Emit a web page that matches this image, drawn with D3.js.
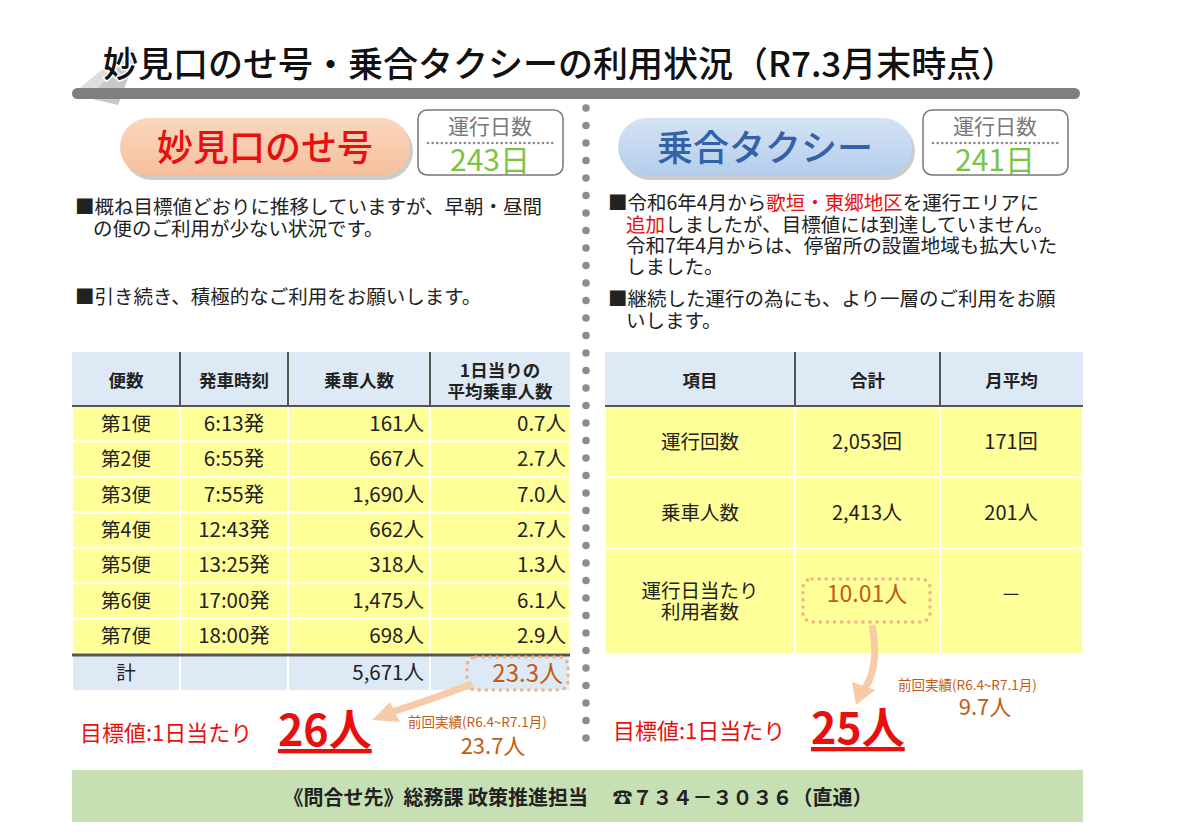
<!DOCTYPE html><html><head><meta charset="utf-8">
<script src="https://cdn.jsdelivr.net/npm/d3@7"></script>
<style>body{margin:0;background:#fff}svg{font-family:"Noto Sans CJK JP",sans-serif}</style></head><body>
<svg id="c" width="1191" height="837"></svg>
<script>
const title="妙見口のせ号・乗合タクシーの利用状況（R7.3月末時点）";
const leftHeaders=["便数","発車時刻","乗車人数","1日当りの\n平均乗車人数"];
const trips=["第1便","第2便","第3便","第4便","第5便","第6便","第7便"];
const times=["6:13発","6:55発","7:55発","12:43発","13:25発","17:00発","18:00発"];
const riders=[161,667,1690,662,318,1475,698];
const perDay=[0.7,2.7,7.0,2.7,1.3,6.1,2.9];
const totalRiders=5671, totalPerDay=23.3;
const rightHeaders=["項目","合計","月平均"];
const rightItems=["運行回数","乗車人数","運行日当たり\n利用者数"];
const rightTotals=["2,053回","2,413人","10.01人"];
const rightAvg=["171回","201人","－"];
const days=[243,241];
const targets=[26,25];
const prev=["23.7人","9.7人"];

const svg=d3.select("#c");
const fmt=d3.format(",");
function txt(x,y,s,o={}){const t=svg.append("text").attr("x",x).attr("y",y).attr("font-size",o.size||19.5).attr("fill",o.fill||"#222").attr("text-anchor",o.anchor||"start").attr("font-weight",o.weight||"normal");
 const lines=s.split("\n");if(lines.length==1){t.text(s);}else{const lh=o.lh||20;lines.forEach((l,i)=>t.append("tspan").attr("x",x).attr("dy",i==0?-(lines.length-1)*lh/2:lh).text(l));}return t;}
// title
svg.append("path").attr("d","M80 88 L128 48 L135 50 L112 92 Z").attr("fill","#ddd");
svg.append("path").attr("d","M88 98 L118 105 L135 60 L128 58 Z").attr("fill","#c8c8c8");
svg.append("rect").attr("x",72).attr("y",88).attr("width",1008).attr("height",11).attr("rx",5.5).attr("fill","#7f7f7f");
txt(103,77,title,{size:35,weight:500,fill:"#111"}).attr("style","paint-order:stroke").attr("stroke","#fff").attr("stroke-width",3);
// divider dots
d3.range(108,752,17.5).forEach(y=>svg.append("circle").attr("cx",586).attr("cy",y).attr("r",3.8).attr("fill","#8c8c8c"));
// pills
const defs=svg.append("defs");
function grad(id,c1,c2){const g=defs.append("linearGradient").attr("id",id).attr("x1",0).attr("y1",0).attr("x2",0).attr("y2",1);g.append("stop").attr("offset",0).attr("stop-color",c1);g.append("stop").attr("offset",1).attr("stop-color",c2);}
grad("gp","#fad7bf","#f5bf9c");grad("gb","#d4e3f5","#b4cdeb");
function pill(x,w,g,label,col){svg.append("rect").attr("x",x+3).attr("y",122).attr("width",w).attr("height",58).attr("rx",29).attr("fill","#ccc");
 svg.append("rect").attr("x",x).attr("y",118).attr("width",w).attr("height",58).attr("rx",29).attr("fill",`url(#${g})`);
 txt(x+w/2,161,label,{size:36,fill:col,anchor:"middle",weight:500});}
pill(120,290,"gp","妙見口のせ号","#e8100e");pill(618,294,"gb","乗合タクシー","#3462a8");
function dayBox(x,d){svg.append("rect").attr("x",x).attr("y",110).attr("width",145).attr("height",65).attr("rx",9).attr("fill","#fff").attr("stroke","#777").attr("stroke-width",1.5);
 txt(x+72,134,"運行日数",{size:21,fill:"#777",anchor:"middle"});
 svg.append("line").attr("x1",x+10).attr("x2",x+135).attr("y1",143).attr("y2",143).attr("stroke","#888").attr("stroke-width",2.5).attr("stroke-dasharray","0.1 4.5").attr("stroke-linecap","round");
 txt(x+72,171,d+"日",{size:30,fill:"#7cc343",anchor:"middle"});}
dayBox(418,days[0]);dayBox(923,days[1]);
// left text
txt(75,214,"■概ね目標値どおりに推移していますが、早朝・昼間");
txt(93,236,"の便のご利用が少ない状況です。");
txt(75,304,"■引き続き、積極的なご利用をお願いします。");
// right text
function rich(x,y,parts){const t=svg.append("text").attr("x",x).attr("y",y).attr("font-size",19.5).attr("fill","#222");parts.forEach(p=>t.append("tspan").attr("fill",p[1]||"#222").text(p[0]));}
rich(608,210,[["■令和6年4月から"],["歌垣・東郷地区","#e8100e"],["を運行エリアに"]]);
rich(626,232,[["追加","#e8100e"],["しましたが、目標値には到達していません。"]]);
rich(626,253,[["令和7年4月からは、停留所の設置地域も拡大いた"]]);
rich(626,274,[["しました。"]]);
rich(608,306,[["■継続した運行の為にも、より一層のご利用をお願"]]);
rich(626,328,[["いします。"]]);
// left table
const Y="#ffff99",B="#ddeaf6",dk="#555";
const lc=[72,180,288,430,570];
const ly=d3.scaleBand().domain(trips).range([406,654]);
svg.append("rect").attr("x",72).attr("y",352).attr("width",498).attr("height",54).attr("fill",B);
leftHeaders.forEach((h,i)=>txt((lc[i]+lc[i+1])/2,387,h,{size:17.5,weight:"bold",anchor:"middle",lh:21}));
trips.forEach((t,i)=>{const y=ly(t),h=ly.bandwidth();
 for(let c=0;c<4;c++)svg.append("rect").attr("x",lc[c]+1).attr("y",y+1).attr("width",lc[c+1]-lc[c]-2).attr("height",h-2).attr("fill",Y);
 const cy=y+h/2+7;
 txt(126,cy,t,{anchor:"middle"});txt(234,cy,times[i],{anchor:"middle",size:20.5});
 txt(424,cy,fmt(riders[i])+"人",{anchor:"end",size:20.5});txt(566,cy,perDay[i].toFixed(1)+"人",{anchor:"end",size:20.5});});
for(let c=0;c<4;c++)svg.append("rect").attr("x",lc[c]+1).attr("y",656).attr("width",lc[c+1]-lc[c]-2).attr("height",34).attr("fill",B);
svg.append("line").attr("x1",72).attr("x2",570).attr("y1",655).attr("y2",655).attr("stroke",dk).attr("stroke-width",3);
[180,288,430].forEach(x=>svg.append("line").attr("x1",x).attr("x2",x).attr("y1",352).attr("y2",406).attr("stroke",dk).attr("stroke-width",2));
svg.append("line").attr("x1",72).attr("x2",570).attr("y1",406).attr("y2",406).attr("stroke",dk).attr("stroke-width",2);
txt(126,680,"計",{anchor:"middle"});txt(424,680,fmt(totalRiders)+"人",{anchor:"end",size:20.5});
txt(563,682,totalPerDay.toFixed(1)+"人",{anchor:"end",size:24,fill:"#c55a11"});
function dotBox(x,y,w,h){svg.append("rect").attr("x",x).attr("y",y).attr("width",w).attr("height",h).attr("rx",9).attr("fill","none").attr("stroke","#f4b183").attr("stroke-width",3.5).attr("stroke-dasharray","0.1 7").attr("stroke-linecap","round");}
dotBox(467,657,101,33);
// right table
const rc=[605,795,940,1083];
const ry=[406,477,548,654];
svg.append("rect").attr("x",605).attr("y",352).attr("width",478).attr("height",54).attr("fill",B);
rightHeaders.forEach((h,i)=>txt((rc[i]+rc[i+1])/2,387,h,{size:17.5,weight:"bold",anchor:"middle"}));
[795,940].forEach(x=>svg.append("line").attr("x1",x).attr("x2",x).attr("y1",352).attr("y2",406).attr("stroke",dk).attr("stroke-width",2));
svg.append("line").attr("x1",605).attr("x2",1083).attr("y1",406).attr("y2",406).attr("stroke",dk).attr("stroke-width",2);
rightItems.forEach((it,i)=>{for(let c=0;c<3;c++)svg.append("rect").attr("x",rc[c]+1).attr("y",ry[i]+1).attr("width",rc[c+1]-rc[c]-2).attr("height",ry[i+1]-ry[i]-2).attr("fill",Y);
 const cy=(ry[i]+ry[i+1])/2+7;
 txt(700,cy,it,{anchor:"middle",lh:21});
 txt(867,cy-(i==2?6:0),rightTotals[i],{anchor:"middle",size:i==2?23:20,fill:i==2?"#c55a11":"#222"});
 txt(1011,cy-(i==2?6:0),rightAvg[i],{anchor:"middle",size:20});});
dotBox(803,579,127,43);
// arrows
function arrow(d,tip){svg.append("path").attr("d",d).attr("fill","none").attr("stroke","#f8cba8").attr("stroke-width",7);
 svg.append("path").attr("d",tip).attr("fill","#f8cba8");}
arrow("M472 684 Q430 700 392 712","M372 720 L390 702 L400 722 Z");
arrow("M872 625 Q880 665 865 688","M856 705 L852 682 L875 690 Z");
// targets
function target(x,y,n){txt(x,y,"目標値:1日当たり",{size:22,fill:"#e8100e"});
 txt(x+198,y+5,n+"人",{size:43,weight:"bold",fill:"#e8100e"}).attr("text-decoration","underline");}
target(80,741,targets[0]);target(613,739,targets[1]);
txt(408,727,"前回実績(R6.4~R7.1月)",{size:13.5,fill:"#c55a11"});
txt(493,754,prev[0],{size:22,fill:"#c55a11",anchor:"middle"});
txt(898,690,"前回実績(R6.4~R7.1月)",{size:13.5,fill:"#c55a11"});
txt(985,715,prev[1],{size:22,fill:"#c55a11",anchor:"middle"});
// footer
svg.append("rect").attr("x",72).attr("y",770).attr("width",1011).attr("height",52).attr("fill","#c6e0b4");
txt(578,805,"《問合せ先》総務課 政策推進担当　 ☎７３４－３０３６（直通）",{size:20,weight:"bold",anchor:"middle"});
</script></body></html>
